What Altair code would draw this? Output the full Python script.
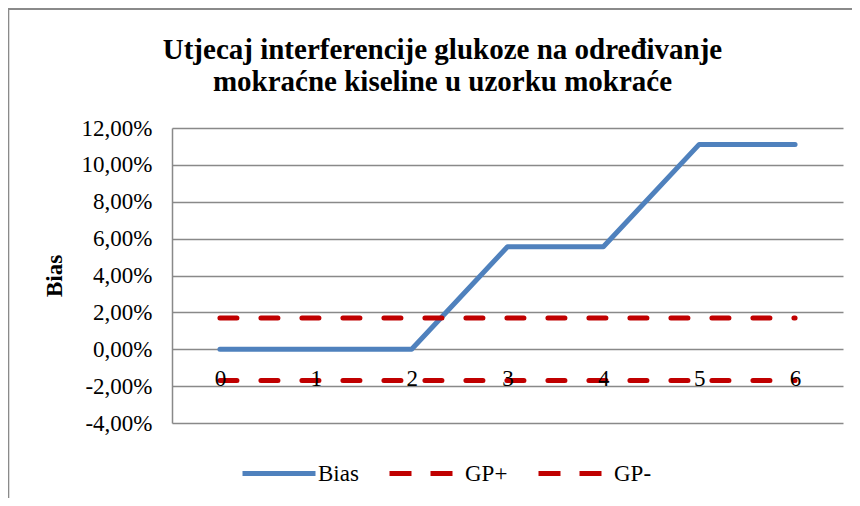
import altair as alt
import pandas as pd

# ---- data ----
x_vals = [0, 1, 2, 3, 4, 5, 6]
bias = [0.0, 0.0, 0.0, 0.0556, 0.0556, 0.1111, 0.1111]
gp_plus = [0.017, 0.017, 0.017, 0.017, 0.017, 0.017, 0.017]
gp_minus = [-0.017, -0.017, -0.017, -0.017, -0.017, -0.017, -0.017]
series_names = ["Bias", "GP+", "GP-"]
series_colors = ["#4F81BD", "#C00000", "#C00000"]
y_ticks = [-0.04, -0.02, 0.0, 0.02, 0.04, 0.06, 0.08, 0.10, 0.12]
title_lines = ["Utjecaj interferencije glukoze na određivanje",
               "mokraćne kiseline u uzorku mokraće"]

df = pd.DataFrame({
    "x": x_vals * 3,
    "value": bias + gp_plus + gp_minus,
    "series": ["Bias"] * 7 + ["GP+"] * 7 + ["GP-"] * 7,
})

FONT = "Liberation Serif"
GRID = "#898989"

x_enc = alt.X(
    "x:Q",
    scale=alt.Scale(domain=[-0.5, 6.5], nice=False, zero=False),
    axis=alt.Axis(values=x_vals, format="d", title=None, grid=False,
                  domain=False, ticks=False, offset=-56, labelPadding=0,
                  labelFont=FONT, labelFontSize=23, labelColor="black",
                  zindex=1),
)
y_enc = alt.Y(
    "value:Q",
    scale=alt.Scale(domain=[-0.04, 0.12], nice=False, zero=False),
    axis=alt.Axis(values=y_ticks,
                  labelExpr="(datum.value < 0 ? '-' : '') + replace(format(abs(datum.value), '.2%'), '.', ',')",
                  title="Bias", titleFont=FONT, titleFontSize=23,
                  titleFontWeight="bold", titleColor="black",
                  titleX=-111, titleBaseline="alphabetic",
                  labelFont=FONT, labelFontSize=23, labelColor="black",
                  labelPadding=20, ticks=False,
                  domainColor=GRID, domainWidth=1.5,
                  gridColor=GRID, gridWidth=1.5),
)

# outer chart frame (decoration only)
border = alt.Chart(pd.DataFrame({"k": [0]})).mark_rect(
    fillOpacity=0, stroke="#8a8a8a", strokeWidth=2
).encode(x=alt.value(-163.7), x2=alt.value(800),
         y=alt.value(-119), y2=alt.value(500))

bias_line = alt.Chart(df).transform_filter("datum.series == 'Bias'").mark_line(
    color="#4F81BD", strokeWidth=5, strokeCap="round", strokeJoin="round"
).encode(x=x_enc, y=y_enc)

gp_lines = alt.Chart(df).transform_filter("datum.series != 'Bias'").mark_line(
    color="#C00000", strokeWidth=5, strokeDash=[17, 24], strokeCap="round"
).encode(x=x_enc, y=y_enc, detail="series:N")

leg = alt.Legend(orient="none", legendX=68, legendY=306.5,
                 direction="horizontal", title=None,
                 labelFont=FONT, labelFontSize=23, labelColor="black",
                 labelOffset=0, columnPadding=20)
legend_layer = alt.Chart(df).transform_filter("false").mark_line(
    strokeWidth=5
).encode(
    x=x_enc, y=y_enc,
    color=alt.Color("series:N", scale=alt.Scale(domain=series_names, range=series_colors), legend=leg),
    strokeDash=alt.StrokeDash("series:N", scale=alt.Scale(domain=series_names, range=[[1, 0], [22, 19], [22, 19]]), legend=leg),
)

chart = alt.layer(border, bias_line, gp_lines, legend_layer).properties(
    width=671, height=295,
    title=alt.TitleParams(text=title_lines, font=FONT, fontSize=29,
                          fontWeight="bold", color="black", anchor="middle",
                          dx=-65, offset=-89, lineHeight=32),
    padding={"left": 164, "top": 120, "right": 9, "bottom": 75},
    autosize=alt.AutoSizeParams(type="none"),
).configure(font=FONT).configure_view(strokeWidth=0).configure_legend(
    labelFont=FONT, labelFontSize=23, labelColor="black",
    symbolType="stroke", symbolSize=5329, symbolStrokeWidth=5,
    columnPadding=20, padding=0,
)

chart.save("out.html", embed_options={"renderer": "svg", "actions": False})
